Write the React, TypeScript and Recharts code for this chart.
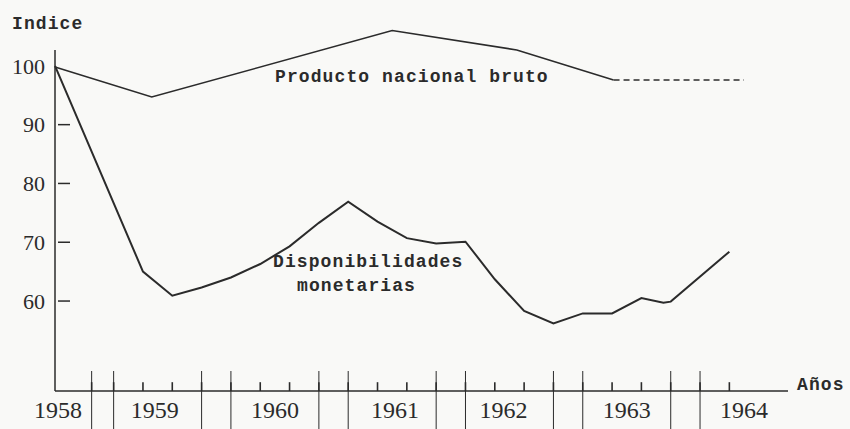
import React from 'react';
import { LineChart, Line, XAxis, YAxis, ReferenceLine } from 'recharts';

// x = trimestres desde el origen del eje (0 = 1958)
const MON_Q = [0, 3, 4, 5, 6, 7, 8, 9, 10, 11, 12, 13, 14, 15, 16, 17, 18, 19, 20, 20.75, 21, 23];
const MON_VAL = [100, 65.0, 60.9, 62.3, 64.0, 66.3, 69.3, 73.3, 76.9, 73.5, 70.7, 69.8, 70.1, 63.7, 58.3, 56.2, 57.9, 57.9, 60.5, 59.7, 59.9, 68.4];

const PNB_Q = [0, 3.3, 11.5, 15.75, 19.05];
const PNB_VAL = [99.8, 94.7, 106.0, 102.7, 97.6];
// tramo estimado (línea de trazos)
const PNB_EST_Q = [19.05, 23.5];
const PNB_EST_VAL = [97.6, 97.6];

const Y_TICKS = [100, 90, 80, 70, 60];
const YEARS = ['1958', '1959', '1960', '1961', '1962', '1963', '1964'];
const YEAR_Q = [0.1, 3.4, 7.5, 11.6, 15.3, 19.5, 23.5];
const QUARTER_MARKS = [1.25, 2, 3, 4, 5, 6, 7, 8, 9, 10, 11, 12, 13, 14, 15, 16, 17, 18, 19, 20, 21, 22, 23];
const YEAR_SEPARATORS = [1.25, 2, 5, 6, 9, 10, 13, 14, 17, 18, 21, 22];

const Y_MIN = 44.7;
const Y_MAX = 109.5;

const INK = '#2b2b2b';
const MONO = '"Liberation Mono", "DejaVu Sans Mono", monospace';
const SERIF = '"Liberation Serif", "DejaVu Serif", serif';

const monData = MON_Q.map((q, i) => ({ q, v: MON_VAL[i] }));
const pnbData = PNB_Q.map((q, i) => ({ q, v: PNB_VAL[i] }));
const pnbEstData = PNB_EST_Q.map((q, i) => ({ q, v: PNB_EST_VAL[i] }));
const xTicks = Array.from(new Set([...YEAR_Q, ...YEAR_SEPARATORS])).sort((a, b) => a - b);

const XTick = (props: any) => {
  const { x, y, payload } = props;
  const v = payload.value;
  const i = YEAR_Q.indexOf(v);
  return (
    <g>
      {YEAR_SEPARATORS.includes(v) && <line x1={x} x2={x} y1={y - 20} y2={y + 40} stroke={INK} strokeWidth={1} />}
      {i >= 0 && (
        <text x={x} y={y + 27} textAnchor="middle" fontFamily={SERIF} fontSize={24} fill={INK}>
          {YEARS[i]}
        </text>
      )}
    </g>
  );
};

const YTick = (props: any) => {
  const { x, y, payload } = props;
  return (
    <g>
      <text x={x - 10} y={y} dy="0.35em" textAnchor="end" fontFamily={SERIF} fontSize={22} fill={INK}>
        {payload.value}
      </text>
      {payload.value < 100 && <line x1={x + 3} x2={x + 15} y1={y} y2={y} stroke={INK} strokeWidth={1.5} />}
    </g>
  );
};

const label = { fontFamily: MONO, fontWeight: 'bold' as const, fontSize: 18, letterSpacing: 1.1, fill: INK };

export default function App() {
  return (
    <div style={{ position: 'absolute', left: 0, top: 0, width: 850, height: 429, background: '#f9f9f7' }}>
      <LineChart width={850} height={429} margin={{ top: 10, right: 62, bottom: 0, left: 0 }}>
        <XAxis
          dataKey="q"
          type="number"
          domain={[0, 25]}
          ticks={xTicks}
          interval={0}
          height={38}
          tickSize={0}
          tickMargin={0}
          tickLine={false}
          tick={XTick}
          axisLine={{ stroke: INK, strokeWidth: 1.5 }}
        />
        <YAxis
          type="number"
          domain={[Y_MIN, Y_MAX]}
          ticks={Y_TICKS}
          interval={0}
          width={55}
          tickSize={0}
          tickMargin={0}
          tickLine={false}
          axisLine={false}
          tick={YTick}
        />
        <ReferenceLine segment={[{ x: 0, y: Y_MIN }, { x: 0, y: 102.7 }]} stroke={INK} strokeWidth={1.5} />
        {QUARTER_MARKS.map((q) => (
          <ReferenceLine key={`m-${q}`} segment={[{ x: q, y: Y_MIN }, { x: q, y: Y_MIN + 1.5 }]} stroke={INK} strokeWidth={1.6} />
        ))}
        <Line data={pnbData} dataKey="v" type="linear" stroke={INK} strokeWidth={1.6} dot={false} isAnimationActive={false} />
        <Line data={pnbEstData} dataKey="v" type="linear" stroke={INK} strokeWidth={1.4} strokeDasharray="6 4" dot={false} isAnimationActive={false} />
        <Line data={monData} dataKey="v" type="linear" stroke={INK} strokeWidth={2} dot={false} isAnimationActive={false} />
      </LineChart>
      <svg width={850} height={429} style={{ position: 'absolute', left: 0, top: 0, pointerEvents: 'none' }}>
        <text x={12} y={29} {...label}>Indice</text>
        <text x={275} y={82} {...label}>Producto nacional bruto</text>
        <text x={273} y={267} {...label}>Disponibilidades</text>
        <text x={297} y={291} {...label}>monetarias</text>
        <text x={797} y={390} {...label}>Años</text>
      </svg>
    </div>
  );
}
